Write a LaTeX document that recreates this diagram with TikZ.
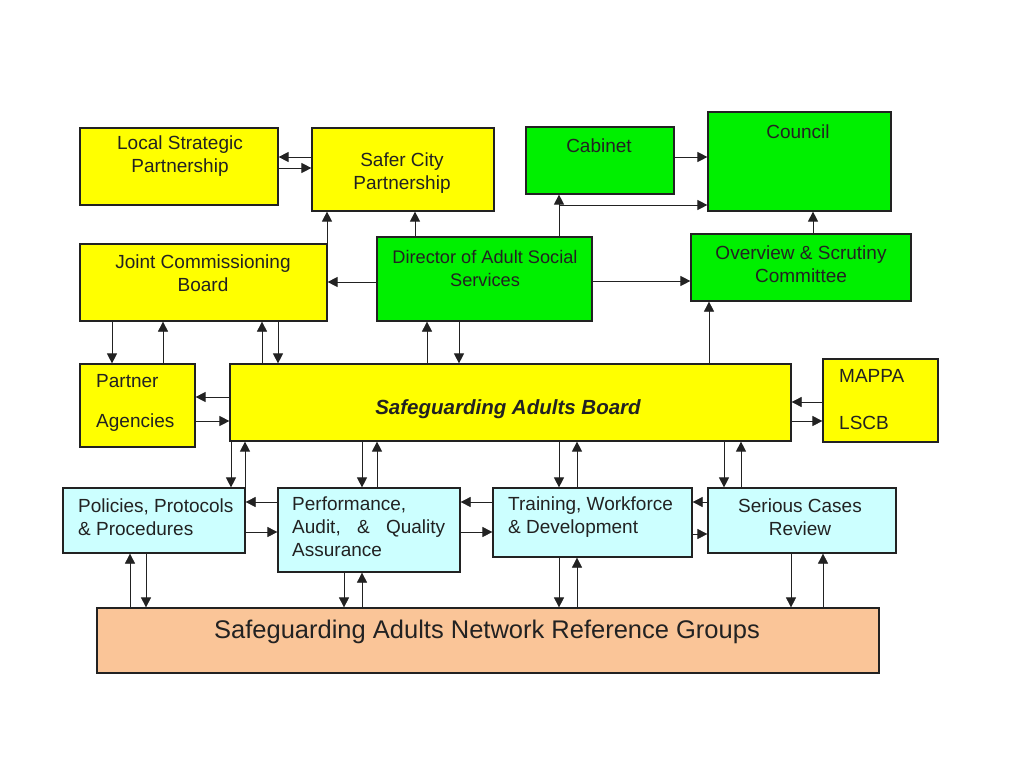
\documentclass[tikz,border=0pt]{standalone}
\usepackage{fontspec}
\setmainfont{Liberation Sans}
\usetikzlibrary{arrows.meta}
\definecolor{syellow}{HTML}{FFFF00}
\definecolor{sgreen}{HTML}{00F000}
\definecolor{scyan}{HTML}{CCFFFF}
\definecolor{speach}{HTML}{FAC598}
\definecolor{sline}{HTML}{222222}
\begin{document}
\begin{tikzpicture}[x=1pt,y=-1pt,
  box/.style={draw=sline, line width=1.2pt, inner sep=0pt, anchor=center},
  ybox/.style={box, fill=syellow},
  gbox/.style={box, fill=sgreen},
  cbox/.style={box, fill=scyan},
  obox/.style={box, fill=speach},
  arr/.style={draw=sline, line width=1pt, -{Triangle[length=10pt,width=10pt]}},
  tarr/.style={arr, line width=0.7pt, -{Triangle[length=10pt,width=10pt]}},
  txt/.style={font=\fontsize{19}{23}\selectfont, text=sline, inner sep=0pt, align=center},
  ltxt/.style={txt, align=left, anchor=west},
]
\useasboundingbox (0,0) rectangle (1024,768);
\fill[white] (0,0) rectangle (1024,768);

% boxes
\node[ybox, minimum width=198pt, minimum height=77pt] (lsp) at (179,166.5) {};
\node[ybox, minimum width=182pt, minimum height=83pt] (scp) at (403,169.5) {};
\node[ybox, minimum width=247pt, minimum height=77pt] (jcb) at (203.5,282.5) {};
\node[gbox, minimum width=215pt, minimum height=84pt] (dir) at (484.5,279) {};
\node[gbox, minimum width=148pt, minimum height=67pt] (cab) at (600,160.5) {};
\node[gbox, minimum width=183pt, minimum height=99pt] (cou) at (799.5,161.5) {};
\node[gbox, minimum width=220pt, minimum height=67pt] (ovs) at (801,267.5) {};
\node[ybox, minimum width=115pt, minimum height=83pt] (pa) at (137.5,405.5) {};
\node[ybox, minimum width=561pt, minimum height=77pt] (sab) at (510.5,402.5) {};
\node[ybox, minimum width=115pt, minimum height=83pt] (map) at (880.5,400.5) {};
\node[cbox, minimum width=182pt, minimum height=65pt] (pol) at (154,520.5) {};
\node[cbox, minimum width=182pt, minimum height=84pt] (perf) at (369,530) {};
\node[cbox, minimum width=199pt, minimum height=69pt] (trn) at (592.5,522.5) {};
\node[cbox, minimum width=188pt, minimum height=65pt] (scr) at (802,520.5) {};
\node[obox, minimum width=782pt, minimum height=65pt] (net) at (488,640.5) {};

% texts
\node[txt] (tlsp) at (180,156.5) {Local Strategic\\Partnership};
\node[txt] (tscp) at (402,173.5) {Safer City\\Partnership};
\node[txt] (tjcb) at (203,273.5) {Joint Commissioning\\Board};
\node[txt, font=\fontsize{18.2}{23}\selectfont] (tdir) at (485,268.5) {Director of Adult Social\\Services};
\node[txt] (tcab) at (599,146) {Cabinet};
\node[txt] (tcou) at (798,132) {Council};
\node[txt] (tovs) at (801,264.5) {Overview \& Scrutiny\\Committee};
\node[ltxt] (tpa1) at (96,381) {Partner};
\node[ltxt] (tpa2) at (96,423) {Agencies};
\node[txt, font=\fontsize{20.5}{24}\selectfont\bfseries\itshape] (tsab) at (508,409) {Safeguarding Adults Board};
\node[ltxt] (tmap1) at (839,376) {MAPPA};
\node[ltxt] (tmap2) at (839,423) {LSCB};
\node[ltxt] (tpol) at (78,517) {Policies, Protocols\\\& Procedures};
\node[ltxt] (tperf) at (292,527) {Performance,\\\makebox[153pt][s]{Audit,\hfill\&\hfill Quality}\\Assurance};
\node[ltxt] (ttrn) at (508,517) {Training, Workforce\\\& Development};
\node[txt] (tscr) at (800,517) {Serious Cases\\Review};
\node[txt, font=\fontsize{25.5}{28}\selectfont] (tnet) at (487,632) {Safeguarding Adults Network Reference Groups};

% top connectors
\draw[arr] (scp.west |- 0,157) -- (lsp.east |- 0,157);
\draw[arr] (lsp.east |- 0,168) -- (scp.west |- 0,168);
\draw[arr] (jcb.north -| 327,0) -- (scp.south -| 327,0);
\draw[arr] (dir.north -| 415,0) -- (scp.south -| 415,0);
\draw[arr] (dir.west |- 0,282) -- (jcb.east |- 0,282);
\draw[arr] (dir.north -| 559,0) -- (cab.south -| 559,0);
\coordinate (br) at (559,205);
\draw[arr] (br) -- (cou.west |- br);
\draw[arr] (cab.east |- 0,157) -- (cou.west |- 0,157);
\draw[arr] (dir.east |- 0,281) -- (ovs.west |- 0,281);
\draw[arr] (ovs.north -| 813,0) -- (cou.south -| 813,0);
\draw[tarr] (sab.north -| 709,0) -- (ovs.south -| 709,0);

% JCB / PA / SAB / Director
\draw[arr] (jcb.south -| 112,0) -- (pa.north -| 112,0);
\draw[tarr] (pa.north -| 163,0) -- (jcb.south -| 163,0);
\draw[tarr] (sab.north -| 262,0) -- (jcb.south -| 262,0);
\draw[arr] (jcb.south -| 278,0) -- (sab.north -| 278,0);
\draw[tarr] (sab.north -| 427,0) -- (dir.south -| 427,0);
\draw[arr] (dir.south -| 459,0) -- (sab.north -| 459,0);
\draw[arr] (sab.west |- 0,397) -- (pa.east |- 0,397);
\draw[arr] (pa.east |- 0,421) -- (sab.west |- 0,421);
\draw[tarr] (map.west |- 0,402) -- (sab.east |- 0,402);
\draw[tarr] (sab.east |- 0,421) -- (map.west |- 0,421);

% SAB to lower row
\draw[arr] (sab.south -| 231,0) -- (pol.north -| 231,0);
\draw[arr] (pol.north -| 245,0) -- (sab.south -| 245,0);
\draw[arr] (sab.south -| 362,0) -- (perf.north -| 362,0);
\draw[arr] (perf.north -| 377,0) -- (sab.south -| 377,0);
\draw[arr] (sab.south -| 559,0) -- (trn.north -| 559,0);
\draw[arr] (trn.north -| 577,0) -- (sab.south -| 577,0);
\draw[arr] (sab.south -| 724,0) -- (scr.north -| 724,0);
\draw[arr] (scr.north -| 741,0) -- (sab.south -| 741,0);

% lower row horizontals
\draw[tarr] (perf.west |- 0,502) -- (pol.east |- 0,502);
\draw[tarr] (pol.east |- 0,532) -- (perf.west |- 0,532);
\draw[tarr] (trn.west |- 0,502) -- (perf.east |- 0,502);
\draw[tarr] (perf.east |- 0,532) -- (trn.west |- 0,532);
\draw[tarr] (scr.west |- 0,502) -- (trn.east |- 0,502);
\draw[tarr] (trn.east |- 0,534) -- (scr.west |- 0,534);

% lower row to network
\draw[tarr] (net.north -| 130,0) -- (pol.south -| 130,0);
\draw[tarr] (pol.south -| 146,0) -- (net.north -| 146,0);
\draw[tarr] (perf.south -| 344,0) -- (net.north -| 344,0);
\draw[tarr] (net.north -| 362,0) -- (perf.south -| 362,0);
\draw[tarr] (trn.south -| 559,0) -- (net.north -| 559,0);
\draw[tarr] (net.north -| 577,0) -- (trn.south -| 577,0);
\draw[tarr] (scr.south -| 791,0) -- (net.north -| 791,0);
\draw[tarr] (net.north -| 823,0) -- (scr.south -| 823,0);
\end{tikzpicture}
\end{document}
